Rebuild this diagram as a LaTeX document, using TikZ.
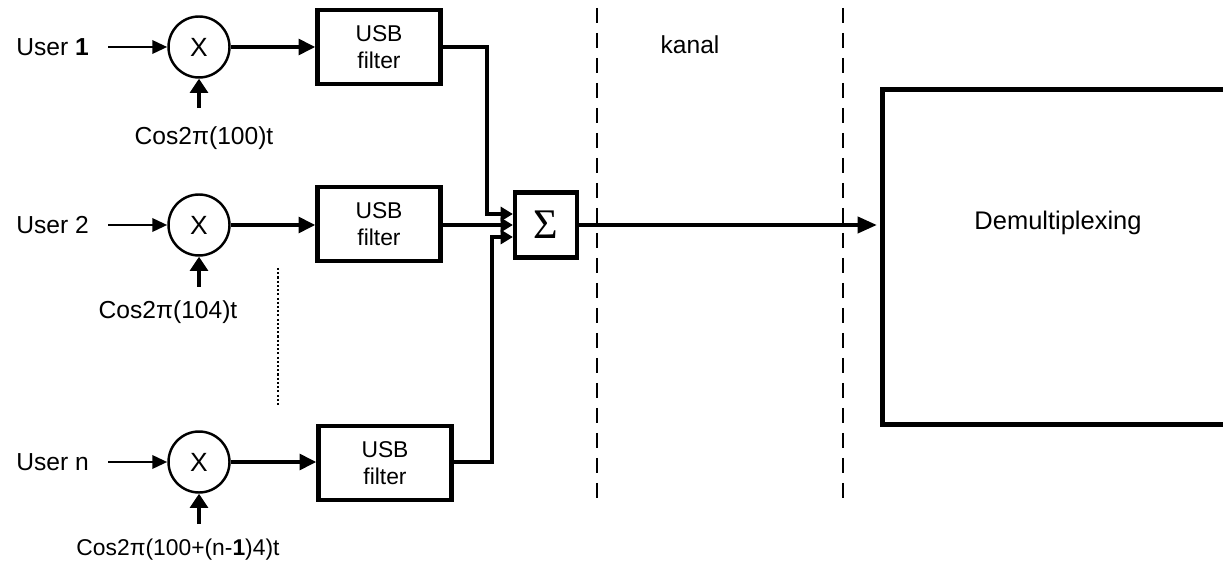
\documentclass[tikz,border=0pt]{standalone}
\usepackage{fontspec}
\setmainfont{Liberation Sans}
\newfontfamily\sigmafont{Liberation Serif}
\usetikzlibrary{arrows.meta}
\begin{document}
\begin{tikzpicture}[x=0.02cm,y=-0.02cm,
 txt/.style={font=\fontsize{14}{16}\selectfont, inner sep=0pt},
 filt/.style={draw, line width=2.6pt, minimum width=2.46cm, minimum height=1.48cm, align=center, font=\fontsize{13}{15.5}\selectfont, inner sep=0pt},
 mix/.style={circle, draw, line width=1.4pt, minimum size=1.22cm, inner sep=0pt, font=\fontsize{15}{16}\selectfont},
 inarr/.style={line width=1.6pt, -{Triangle[length=8.5pt,width=7.5pt]}},
 midarr/.style={line width=2pt, -{Triangle[length=9.5pt,width=9pt]}},
 cosarr/.style={line width=2.8pt, -{Triangle[length=8pt,width=10pt]}},
 bus/.style={line width=2.8pt, -{Triangle[length=7pt,width=8pt]}},
 mainarr/.style={line width=2.4pt, -{Triangle[length=11pt,width=9pt]}},
 sep/.style={line width=1.1pt, dash pattern=on 0.3cm off 0.2cm},
]
\useasboundingbox (0,0) rectangle (1223,567);

% labels
\node[txt, anchor=west] (u1) at (16,47) {User \textbf{1}};
\node[txt, anchor=west] (u2) at (16,225) {User 2};
\node[txt, anchor=west] (un) at (16,462) {User n};

% mixers
\node[mix] (m1) at (199,47) {X};
\node[mix] (m2) at (199,225) {X};
\node[mix] (mn) at (199,462) {X};

% carrier labels
\node[txt] (c1) at (204,138) {Cos2π(100)t};
\node[txt] (c2) at (168,312) {Cos2π(104)t};
\node[txt, font=\fontsize{13}{16}\selectfont] (cn) at (178,550) {Cos2π(100+(n-\textbf{1})4)t};
\coordinate (a1) at (199,108);
\coordinate (a2) at (199,287);
\coordinate (an) at (199,524);

% filters
\node[filt] (f1) at (379,47) {USB\\filter};
\node[filt] (f2) at (379,224) {USB\\filter};
\node[filt, minimum width=2.66cm] (fn) at (385,463) {USB\\filter};

% sum
\node[draw, line width=2.4pt, minimum width=1.24cm, minimum height=1.3cm, inner sep=0pt, font=\sigmafont\fontsize{24}{26}\selectfont] (s) at (546,225) {Σ};

% demux
\node[draw, line width=2.8pt, minimum width=7.8cm, minimum height=6.7cm, anchor=north west] (dm) at (880,87) {};
\node[txt, font=\fontsize{14.5}{16}\selectfont] (dml) at (1058,223) {Demultiplexing};

% kanal
\node[txt] (k) at (690,45) {kanal};

% separators
\coordinate (d1t) at (597,8); \coordinate (d1b) at (597,505);
\coordinate (d2t) at (843,8); \coordinate (d2b) at (843,505);
\draw[sep] (d1t) -- (d1b);
\draw[sep] (d2t) -- (d2b);

% dotted ellipsis
\coordinate (dt) at (278,268); \coordinate (db) at (278,405);
\draw[line width=0.8pt, dash pattern=on 1.2pt off 1.2pt] (dt) -- (db);

% inputs
\coordinate (i1) at (108,47); \coordinate (i2) at (108,225); \coordinate (in) at (108,462);
\draw[inarr] (i1) -- (m1.west);
\draw[inarr] (i2) -- (m2.west);
\draw[inarr] (in) -- (mn.west);

% carrier arrows
\draw[cosarr] (a1) -- (m1.south);
\draw[cosarr] (a2) -- (m2.south);
\draw[cosarr] (an) -- (mn.south);

% mixer to filter
\draw[midarr] (m1.east) -- (f1.west);
\draw[midarr] (m2.east) -- (f2.west |- m2.east);
\draw[midarr] (mn.east) -- (fn.west |- mn.east);

% filters to sum
\coordinate (j1) at (487,214);
\coordinate (j3) at (492,237);
\draw[bus] (f1.east) -| (j1) -- (s.west |- j1);
\draw[bus] (f2.east |- s.west) -- (s.west);
\draw[bus] (fn.east |- mn.east) -| (j3) -- (s.west |- j3);

% to demux
\draw[mainarr, shorten >=0.06cm] (s.east) -- (s.east -| dm.west);
\end{tikzpicture}
\end{document}
